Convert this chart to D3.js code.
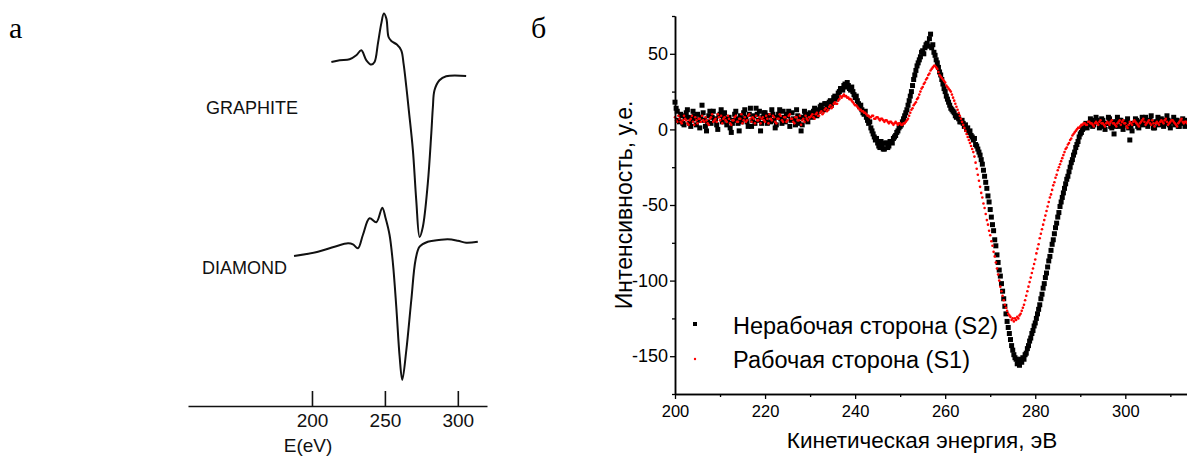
<!DOCTYPE html>
<html>
<head>
<meta charset="utf-8">
<script src="https://cdn.jsdelivr.net/npm/d3@7"></script>
<style>
  body { margin: 0; background: #fff; }
  text { font-family: "Liberation Sans", Arial, sans-serif; }
</style>
</head>
<body>
<div id="chart"></div>
<script>
// panel a: scanned Auger spectra (relative units, curves stacked)
var graphiteE = [213.3, 219.0, 225.8, 230.4, 233.8, 237.3, 240.7, 242.9, 245.2, 247.5, 249.3, 251.0, 252.5, 254.4, 258.2, 261.2, 262.8, 264.7, 266.4, 269.2, 271.5, 273.8, 276.0, 279.4, 281.8, 282.9, 284.0, 287.4, 292.0, 305.7];
var graphiteI = [0, 1.7, 2.7, 6.7, 11.7, 1.7, -2.6, 0, 18.4, 38.4, 48.4, 43.4, 25, 21, 17.4, 11.7, -1.6, -25, -48.3, -88.3, -138.3, -175, -165, -121.6, -71.6, -45, -28.3, -18.3, -14.3, -14];
var diamondE = [187.7, 204.1, 215.5, 224.7, 228.1, 231.5, 234.9, 239.5, 244.1, 248.2, 250.5, 253.2, 255.5, 257.8, 260.1, 261.9, 264.7, 268.1, 271.0, 273.8, 279.4, 281.8, 293.1, 300.0, 305.7, 313.7];
var diamondI = [0, 4.3, 9.3, 12.7, 11.7, 7.7, 21, 37.7, 33.7, 48.3, 37.7, 21, -7.3, -50.7, -100.7, -124, -94, -44, -4, 9.3, 14.3, 15, 16.7, 15.3, 13.3, 14.3];
var curveOffsets = [344, 150]; // graphite, diamond
var curveNames = ['GRAPHITE', 'DIAMOND'];
var ticksA = [200, 250, 300];

// panel б: energy grid of the measurement, 0.25 eV
var energy = d3.range(200, 314, 0.25);

// Нерабочая сторона (S2), 4 points per eV
var s2 = [
  18, 14, 12, 6,  5, 10, 9, 4,  3, 8, 11, 13,  8, 4, 2, 7,  12, 9, 7, 3,
  10, 6, 1, 8,  16, 11, 6, 2,  -1, 5, 9, 12,  4, 8, 12, 6,  7, 3, 0, 9,
  10, 13, 5, 8,  11, 7, 3, 6,  8, 1, -2, 4,  6, 10, 12, 7,  4, -1, 9, 5,
  7, 11, 13, 8,  5, 2, 10, 14,  2, 6, 9, 4,  14, 10, 6, 12,  -1, 4, 8, 11,
  11, 7, 4, 9,  9, 5, 13, 10,  6, 1, 3, 8,  10, 13, 7, 4,  12, 8, 5, 10,
  9, 12, 2, 6,  11, 7, 6, 3,  13, 9, 4, 8,  -1, 3, 8, 12,  10, 6, 5, 9,
  11, 9, 8, 12,  14, 10, 9, 13,  12, 15, 16, 13,  13, 17, 17, 14,  15, 18, 19, 16,
  18, 21, 22, 20,  21, 24, 25, 27,  27, 26, 29, 30,  28, 31, 29, 27,  26, 28, 25, 23,
  21, 22, 19, 17,  15, 16, 13, 11,  10, 12, 8, 6,  4, 5, 1, -1,  -3, -5, -7, -6,
  -9, -11, -12, -8,  -10, -13, -13, -9,  -9, -12, -11, -8,  -8, -9, -6, -5,  -4, -2, -1, 1,
  2, 3, 5, 7,  9, 11, 13, 16,  19, 22, 25, 29,  33, 36, 39, 42,  44, 46, 48, 51,
  52, 50, 54, 56,  57, 55, 60, 63,  54, 56, 51, 49,  46, 44, 41, 38,  36, 33, 30, 27,
  25, 22, 20, 18,  16, 14, 13, 12,  11, 9, 8, 9,  7, 5, 5, 6,
  4, 2, 3, 0,  1, -2, -1, -4,  -5, -7, -6, -10,  -11, -13, -15, -17,
  -20, -23, -27, -31,  -35, -39, -44, -48,  -53, -58, -63, -67,  -73, -77, -83, -88,
  -93, -97, -102, -107,  -112, -117, -122, -127,  -131, -135, -139, -143,  -146, -149, -151, -152,
  -155, -153, -156, -152,  -154, -151, -152, -149,  -148, -145, -143, -140,  -138, -135, -133, -130,
  -128, -125, -122, -119,  -116, -112, -109, -105,  -102, -98, -95, -91,  -87, -84, -80, -76,
  -73, -69, -65, -62,  -58, -55, -51, -48,  -45, -42, -39, -36,  -33, -31, -28, -25,
  -22, -20, -17, -15,  -12, -10, -8, -5,
  -3, -2, 0, 1,  2, 4, 1, 3,  4, 7, 6, 2,  3, 5, 8, 6,  5, 1, 2, 7,
  6, 3, 0, 4,  4, 8, 7, 2,  1, 5, -3, 2,  5, 8, 2, 6,  6, 3, 0, 4,
  3, 5, 7, 1,  -7, 2, -1, 4,  4, 7, 6, 2,  1, 4, 5, 8,  3, 6, 8, 4,
  2, 5, 6, 9,  4, 1, 1, 5,  5, 8, 3, 6,  7, 4, 2, 6,  4, 9, 6, 3,
  1, 5, 5, 8,  3, 6, 6, 2,  2, 5, 4, 7,  5, 2, 3, 6
];

// Рабочая сторона (S1), 4 points per eV
var s1 = [
  8, 6, 5, 9,  7, 5, 4, 6,  9, 7, 6, 4,  3, 6, 7, 9,  5, 3, 8, 6,
  4, 7, 7, 5,  9, 6, 5, 8,  6, 4, 3, 7,  8, 10, 5, 6,  7, 5, 10, 8,
  6, 9, 4, 7,  8, 6, 5, 9,  7, 4, 3, 6,  6, 8, 9, 5,  5, 7, 7, 10,
  4, 6, 8, 5,  6, 9, 10, 7,  5, 8, 7, 4,  9, 6, 6, 8,  4, 7, 8, 6,
  5, 9, 7, 4,  10, 7, 6, 9,  8, 5, 4, 7,  7, 10, 9, 6,  5, 8, 8, 5,
  6, 9, 10, 7,  7, 5, 4, 8,  8, 6, 6, 9,  3, 6, 7, 5,  9, 7, 6, 8,
  8, 9, 10, 8,  7, 10, 11, 9,  9, 11, 12, 10,  11, 13, 14, 12,  13, 15, 16, 14,
  15, 17, 18, 17,  17, 19, 20, 22,  21, 22, 23, 22,  22, 21, 21, 20,  20, 19, 18, 17,
  16, 16, 15, 14,  13, 13, 12, 12,  11, 11, 10, 9,  9, 8, 8, 9,  9, 7, 7, 8,
  8, 7, 6, 7,  7, 6, 5, 6,  6, 5, 4, 5,  5, 4, 3, 4,  5, 4, 3, 4,
  4, 3, 3, 4,  4, 5, 6, 7,  9, 11, 13, 14,  16, 17, 18, 20,  21, 23, 25, 27,
  28, 30, 31, 33,  34, 36, 37, 39,  40, 41, 42, 42,  41, 40, 38, 36,  35, 34, 33, 32,
  31, 29, 28, 27,  26, 25, 23, 21,  19, 17, 15, 13,  11, 9, 7, 5,
  3, 1, -1, -3,  -5, -7, -9, -11,  -13, -15, -18, -22,  -26, -30, -34, -38,
  -42, -45, -49, -52,  -56, -60, -63, -67,  -70, -74, -77, -81,  -84, -88, -92, -96,
  -100, -104, -107, -110,  -113, -116, -118, -120,  -122, -123, -124, -126,  -125, -127, -125, -126,
  -124, -125, -123, -122,  -120, -118, -116, -113,  -110, -107, -104, -101,  -98, -95, -92, -89,
  -86, -82, -79, -76,  -72, -69, -66, -63,  -60, -57, -54, -51,  -48, -45, -43, -40,
  -37, -35, -32, -30,  -27, -25, -23, -21,  -19, -17, -15, -13,  -12, -10, -9, -7,
  -6, -4, -3, -2,  -1, 0, 1, 1,
  2, 3, 3, 4,  4, 3, 3, 5,  5, 4, 4, 3,  2, 4, 5, 4,  3, 5, 6, 4,
  4, 3, 2, 4,  5, 4, 3, 5,  6, 4, 4, 3,  2, 4, 5, 6,  3, 5, 6, 4,
  4, 2, 1, 3,  5, 4, 3, 5,  6, 5, 4, 3,  2, 4, 5, 6,  7, 5, 3, 4,
  5, 6, 4, 3,  6, 4, 2, 4,  5, 4, 3, 5,  6, 5, 4, 6,  7, 5, 3, 4,
  5, 6, 6, 5,  4, 3, 2, 4,  5, 6, 7, 5,  4, 5, 5, 4
];
var seriesNames = ['Нерабочая сторона (S2)', 'Рабочая сторона (S1)'];
var yTicksB = [-150, -100, -50, 0, 50];
var yMinorB = [-175, -125, -75, -25, 25, 75];
var xTicksB = [200, 220, 240, 260, 280, 300];
var xMinorB = [210, 230, 250, 270, 290, 310];

var width = 1187, height = 456;

var svg = d3.select('#chart').append('svg')
    .attr('width', width)
    .attr('height', height)
    .style('background', '#fff');

// ---------- panel a ----------
var xA = d3.scaleLinear().domain([115, 320]).range([188, 487]);
var yA = d3.scaleLinear().domain([0, 400]).range([406, 6]);

var lineA = d3.line()
    .x(function(d) { return xA(d[0]); })
    .y(function(d) { return yA(d[1]); })
    .curve(d3.curveCatmullRom.alpha(0.5));

var curvesA = [
  d3.zip(graphiteE, graphiteI.map(function(v) { return v + curveOffsets[0]; })),
  d3.zip(diamondE, diamondI.map(function(v) { return v + curveOffsets[1]; }))
];

svg.append('g').selectAll('path').data(curvesA)
  .enter().append('path')
    .attr('d', lineA)
    .attr('fill', 'none')
    .attr('stroke', '#111')
    .attr('stroke-width', 2)
    .attr('stroke-linejoin', 'round');

svg.selectAll('.curveName').data(curveNames)
  .enter().append('text')
    .attr('class', 'curveName')
    .attr('x', function(d, i) { return i === 0 ? 206 : 202; })
    .attr('y', function(d, i) { return i === 0 ? 114 : 274; })
    .style('font-size', '18px')
    .attr('fill', '#111')
    .text(function(d) { return d; });

var axisA = svg.append('g')
    .attr('transform', 'translate(0,406)')
    .call(d3.axisBottom(xA).tickValues(ticksA).tickSize(-15).tickSizeOuter(0).tickPadding(8));
axisA.select('.domain').attr('stroke', '#111').attr('stroke-width', 1.6);
axisA.selectAll('.tick line').attr('stroke', '#111').attr('stroke-width', 1.6);
axisA.selectAll('.tick text').style('font-size', '19px').attr('fill', '#111');

svg.append('text')
    .attr('x', 308).attr('y', 452)
    .attr('text-anchor', 'middle')
    .style('font-size', '19px')
    .attr('fill', '#111')
    .text('E(eV)');

svg.append('text')
    .attr('x', 9).attr('y', 38)
    .style('font-family', '"Liberation Serif", "Times New Roman", serif')
    .style('font-size', '30px')
    .text('а');

svg.append('text')
    .attr('x', 531).attr('y', 38)
    .style('font-family', '"Liberation Serif", "Times New Roman", serif')
    .style('font-size', '30px')
    .text('б');

// ---------- panel б ----------
var xB = d3.scaleLinear().domain([200, 313.7]).range([675, 1187]);
var yB = d3.scaleLinear().domain([-175, 75]).range([394, 16]);

var plot = svg.append('g');

plot.selectAll('rect.s2').data(d3.zip(energy, s2))
  .enter().append('rect')
    .attr('class', 's2')
    .attr('x', function(d) { return xB(d[0]) - 2.5; })
    .attr('y', function(d) { return yB(d[1]) - 2.5; })
    .attr('width', 5)
    .attr('height', 5)
    .attr('fill', '#000');

plot.selectAll('circle.s1').data(d3.zip(energy, s1))
  .enter().append('circle')
    .attr('class', 's1')
    .attr('cx', function(d) { return xB(d[0]); })
    .attr('cy', function(d) { return yB(d[1]); })
    .attr('r', 1.3)
    .attr('fill', '#ff0000');

function styleAxis(g, size) {
  g.select('.domain').attr('stroke', '#000').attr('stroke-width', 1.5);
  g.selectAll('.tick line').attr('stroke', '#000').attr('stroke-width', 1.3);
  g.selectAll('.tick text').style('font-size', size || '16.5px').attr('fill', '#000');
}

svg.append('g')
    .attr('transform', 'translate(0,394)')
    .call(d3.axisBottom(xB).tickValues(xTicksB).tickSize(5).tickSizeOuter(0).tickPadding(6)
      .tickFormat(function(d) { return String(d); }))
    .call(styleAxis);

svg.append('g')
    .attr('transform', 'translate(0,394)')
    .call(d3.axisBottom(xB).tickValues(xMinorB).tickSize(3).tickSizeOuter(0).tickFormat(''))
    .call(styleAxis);

svg.append('g')
    .attr('transform', 'translate(675,0)')
    .call(d3.axisLeft(yB).tickValues(yTicksB).tickSize(5).tickSizeOuter(0).tickPadding(2)
      .tickFormat(function(d) { return String(d); }))
    .call(styleAxis, '18px');

svg.append('g')
    .attr('transform', 'translate(675,0)')
    .call(d3.axisLeft(yB).tickValues(yMinorB).tickSize(3).tickSizeOuter(0).tickFormat(''))
    .call(styleAxis);

svg.append('text')
    .attr('x', 922).attr('y', 448)
    .attr('text-anchor', 'middle')
    .style('font-size', '22.5px')
    .text('Кинетическая энергия, эВ');

svg.append('text')
    .attr('transform', 'translate(632,205) rotate(-90)')
    .attr('text-anchor', 'middle')
    .style('font-size', '23px')
    .text('Интенсивность, у.е.');

// legend
var legend = svg.append('g').selectAll('g').data(seriesNames)
  .enter().append('g')
    .attr('transform', function(d, i) { return 'translate(0,' + (i * 34) + ')'; });

legend.filter(function(d, i) { return i === 0; })
  .append('rect')
    .attr('x', 693).attr('y', 322)
    .attr('width', 4).attr('height', 4)
    .attr('fill', '#000');

legend.filter(function(d, i) { return i === 1; })
  .append('circle')
    .attr('cx', 695).attr('cy', 325)
    .attr('r', 1.2)
    .attr('fill', '#ff0000');

legend.append('text')
    .attr('x', 733).attr('y', 334)
    .style('font-size', '23.5px')
    .text(function(d) { return d; });
</script>
</body>
</html>
